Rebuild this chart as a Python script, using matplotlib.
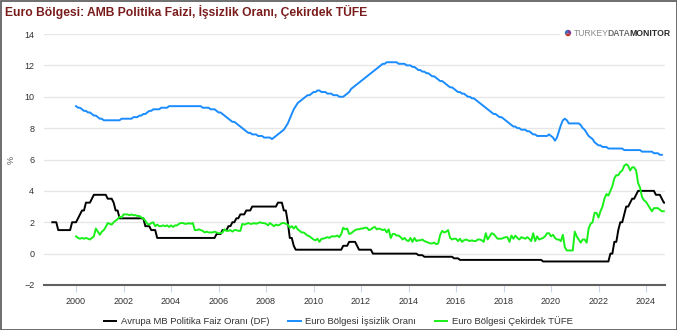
import numpy as np
import matplotlib.pyplot as plt
from matplotlib import font_manager
from matplotlib.patches import Rectangle

# ECB deposit facility rate, monthly, Jan 1999 - Nov 2024
ecb_df = [
    2.00, 2.00, 2.00, 1.50, 1.50, 1.50, 1.50, 1.50, 1.50, 1.50, 2.00, 2.00,  # 1999
    2.00, 2.25, 2.50, 2.75, 2.75, 3.25, 3.25, 3.25, 3.50, 3.75, 3.75, 3.75,  # 2000
    3.75, 3.75, 3.75, 3.75, 3.50, 3.50, 3.50, 3.25, 2.75, 2.75, 2.25, 2.25,  # 2001
    2.25, 2.25, 2.25, 2.25, 2.25, 2.25, 2.25, 2.25, 2.25, 2.25, 2.25, 1.75,  # 2002
    1.75, 1.75, 1.50, 1.50, 1.50, 1.00, 1.00, 1.00, 1.00, 1.00, 1.00, 1.00,  # 2003
    1.00, 1.00, 1.00, 1.00, 1.00, 1.00, 1.00, 1.00, 1.00, 1.00, 1.00, 1.00,  # 2004
    1.00, 1.00, 1.00, 1.00, 1.00, 1.00, 1.00, 1.00, 1.00, 1.00, 1.00, 1.25,  # 2005
    1.25, 1.25, 1.50, 1.50, 1.50, 1.75, 1.75, 2.00, 2.00, 2.25, 2.25, 2.50,  # 2006
    2.50, 2.50, 2.75, 2.75, 2.75, 3.00, 3.00, 3.00, 3.00, 3.00, 3.00, 3.00,  # 2007
    3.00, 3.00, 3.00, 3.00, 3.00, 3.00, 3.25, 3.25, 3.25, 2.75, 2.75, 2.00,  # 2008
    1.00, 1.00, 0.50, 0.25, 0.25, 0.25, 0.25, 0.25, 0.25, 0.25, 0.25, 0.25,  # 2009
    0.25, 0.25, 0.25, 0.25, 0.25, 0.25, 0.25, 0.25, 0.25, 0.25, 0.25, 0.25,  # 2010
    0.25, 0.25, 0.25, 0.50, 0.50, 0.50, 0.75, 0.75, 0.75, 0.75, 0.50, 0.25,  # 2011
    0.25, 0.25, 0.25, 0.25, 0.25, 0.25, 0.00, 0.00, 0.00, 0.00, 0.00, 0.00,  # 2012
    0.00, 0.00, 0.00, 0.00, 0.00, 0.00, 0.00, 0.00, 0.00, 0.00, 0.00, 0.00,  # 2013
    0.00, 0.00, 0.00, 0.00, 0.00, -0.10, -0.10, -0.10, -0.20, -0.20, -0.20, -0.20,  # 2014
    -0.20, -0.20, -0.20, -0.20, -0.20, -0.20, -0.20, -0.20, -0.20, -0.20, -0.20, -0.30,  # 2015
    -0.30, -0.30, -0.40, -0.40, -0.40, -0.40, -0.40, -0.40, -0.40, -0.40, -0.40, -0.40,  # 2016
    -0.40, -0.40, -0.40, -0.40, -0.40, -0.40, -0.40, -0.40, -0.40, -0.40, -0.40, -0.40,  # 2017
    -0.40, -0.40, -0.40, -0.40, -0.40, -0.40, -0.40, -0.40, -0.40, -0.40, -0.40, -0.40,  # 2018
    -0.40, -0.40, -0.40, -0.40, -0.40, -0.40, -0.40, -0.40, -0.50, -0.50, -0.50, -0.50,  # 2019
    -0.50, -0.50, -0.50, -0.50, -0.50, -0.50, -0.50, -0.50, -0.50, -0.50, -0.50, -0.50,  # 2020
    -0.50, -0.50, -0.50, -0.50, -0.50, -0.50, -0.50, -0.50, -0.50, -0.50, -0.50, -0.50,  # 2021
    -0.50, -0.50, -0.50, -0.50, -0.50, -0.50, 0.00, 0.00, 0.75, 0.75, 1.50, 2.00,  # 2022
    2.00, 2.50, 3.00, 3.00, 3.25, 3.50, 3.50, 3.75, 4.00, 4.00, 4.00, 4.00,  # 2023
    4.00, 4.00, 4.00, 4.00, 4.00, 3.75, 3.75, 3.75, 3.50, 3.25, 3.25,  # 2024
]

# Euro area unemployment rate, monthly, Jan 2000 - Sep 2024
unemployment = [
    9.4, 9.3, 9.3, 9.2, 9.1, 9.1, 9.0, 9.0, 8.9, 8.8, 8.8, 8.7,  # 2000
    8.6, 8.6, 8.5, 8.5, 8.5, 8.5, 8.5, 8.5, 8.5, 8.5, 8.5, 8.6,  # 2001
    8.6, 8.6, 8.6, 8.6, 8.6, 8.7, 8.7, 8.7, 8.8, 8.8, 8.9, 8.9,  # 2002
    9.0, 9.1, 9.1, 9.2, 9.2, 9.2, 9.2, 9.3, 9.3, 9.3, 9.3, 9.4,  # 2003
    9.4, 9.4, 9.4, 9.4, 9.4, 9.4, 9.4, 9.4, 9.4, 9.4, 9.4, 9.4,  # 2004
    9.4, 9.4, 9.4, 9.4, 9.3, 9.3, 9.3, 9.3, 9.2, 9.2, 9.2, 9.1,  # 2005
    9.0, 9.0, 8.9, 8.8, 8.7, 8.6, 8.5, 8.4, 8.4, 8.3, 8.2, 8.1,  # 2006
    8.0, 7.9, 7.8, 7.7, 7.7, 7.6, 7.6, 7.6, 7.5, 7.5, 7.5, 7.4,  # 2007
    7.4, 7.4, 7.4, 7.3, 7.4, 7.5, 7.6, 7.7, 7.8, 7.9, 8.1, 8.3,  # 2008
    8.6, 8.9, 9.2, 9.4, 9.6, 9.7, 9.8, 9.9, 10.0, 10.1, 10.1, 10.2,  # 2009
    10.3, 10.3, 10.4, 10.4, 10.3, 10.3, 10.3, 10.2, 10.2, 10.2, 10.1, 10.1,  # 2010
    10.1, 10.0, 10.0, 10.0, 10.1, 10.2, 10.3, 10.5, 10.6, 10.7, 10.8, 10.9,  # 2011
    11.0, 11.1, 11.2, 11.3, 11.4, 11.5, 11.6, 11.7, 11.8, 11.9, 12.0, 12.1,  # 2012
    12.1, 12.2, 12.2, 12.2, 12.2, 12.2, 12.2, 12.1, 12.1, 12.1, 12.1, 12.0,  # 2013
    12.0, 12.0, 11.9, 11.9, 11.8, 11.7, 11.7, 11.6, 11.6, 11.5, 11.5, 11.4,  # 2014
    11.3, 11.3, 11.2, 11.1, 11.0, 11.0, 10.9, 10.8, 10.7, 10.6, 10.6, 10.5,  # 2015
    10.4, 10.3, 10.3, 10.2, 10.2, 10.1, 10.0, 10.0, 9.9, 9.9, 9.8, 9.7,  # 2016
    9.6, 9.5, 9.4, 9.3, 9.2, 9.1, 9.0, 8.9, 8.9, 8.8, 8.7, 8.7,  # 2017
    8.6, 8.5, 8.4, 8.3, 8.2, 8.1, 8.1, 8.0, 8.0, 7.9, 7.9, 7.9,  # 2018
    7.8, 7.8, 7.7, 7.6, 7.6, 7.5, 7.5, 7.5, 7.5, 7.5, 7.5, 7.6,  # 2019
    7.5, 7.4, 7.2, 7.4, 7.8, 8.2, 8.5, 8.6, 8.5, 8.3, 8.3, 8.3,  # 2020
    8.3, 8.3, 8.3, 8.2, 8.0, 7.9, 7.7, 7.5, 7.4, 7.3, 7.1, 7.0,  # 2021
    6.9, 6.9, 6.8, 6.8, 6.8, 6.7, 6.7, 6.7, 6.7, 6.7, 6.7, 6.7,  # 2022
    6.7, 6.6, 6.6, 6.6, 6.6, 6.6, 6.6, 6.6, 6.6, 6.6, 6.5, 6.5,  # 2023
    6.5, 6.5, 6.5, 6.5, 6.4, 6.4, 6.4, 6.3, 6.3,  # 2024
]

# Euro area core HICP (yoy %), monthly, Jan 2000 - Oct 2024
core_cpi = [
    1.1, 1.0, 0.95, 1.0, 0.95, 1.0, 0.95, 0.9, 1.0, 1.1, 1.6, 1.4,  # 2000
    1.2, 1.4, 1.5, 1.7, 1.95, 1.9, 1.85, 2.0, 2.1, 2.2, 2.35, 2.3,  # 2001
    2.5, 2.5, 2.5, 2.45, 2.5, 2.45, 2.45, 2.4, 2.4, 2.3, 2.25, 2.1,  # 2002
    1.9, 1.85, 1.95, 2.0, 1.75, 1.85, 1.75, 1.75, 1.8, 1.75, 1.8, 1.7,  # 2003
    1.8, 1.7, 1.8, 1.8, 1.9, 1.95, 1.95, 1.9, 1.9, 1.95, 1.9, 1.95,  # 2004
    1.5, 1.5, 1.55, 1.5, 1.45, 1.35, 1.4, 1.35, 1.35, 1.35, 1.4, 1.35,  # 2005
    1.3, 1.3, 1.35, 1.55, 1.45, 1.45, 1.5, 1.4, 1.5, 1.5, 1.45, 1.45,  # 2006
    1.9, 1.85, 1.9, 1.95, 1.9, 1.9, 1.95, 1.9, 1.95, 2.0, 1.95, 1.95,  # 2007
    1.9, 1.8, 1.95, 1.85, 1.75, 1.85, 1.8, 1.85, 1.95, 1.95, 1.9, 1.85,  # 2008
    1.65, 1.75, 1.6, 1.75, 1.55, 1.45, 1.35, 1.35, 1.25, 1.15, 1.1, 1.0,  # 2009
    0.9, 0.85, 0.95, 0.75, 0.95, 0.95, 1.0, 1.05, 1.0, 1.1, 1.1, 1.1,  # 2010
    1.15, 1.05, 1.25, 1.65, 1.55, 1.6, 1.25, 1.3, 1.4, 1.5, 1.55, 1.55,  # 2011
    1.6, 1.6, 1.65, 1.65, 1.5, 1.55, 1.65, 1.7, 1.55, 1.6, 1.55, 1.5,  # 2012
    1.55, 1.35, 1.55, 1.0, 1.25, 1.25, 1.15, 1.15, 1.05, 0.9, 1.0, 0.85,  # 2013
    0.8, 1.0, 0.75, 1.0, 0.8, 0.85, 0.85, 0.9, 0.8, 0.75, 0.7, 0.65,  # 2014
    0.65, 0.7, 0.6, 0.65, 1.2, 1.45, 1.35, 1.4, 1.5, 1.0, 0.9, 0.95,  # 2015
    0.95, 0.8, 0.95, 0.75, 0.85, 0.9, 0.85, 0.8, 0.85, 0.8, 0.8, 0.9,  # 2016
    0.9, 0.85, 0.75, 1.3, 0.9, 1.1, 1.3, 1.25, 1.1, 0.95, 0.95, 0.95,  # 2017
    1.0, 1.05, 1.05, 0.75, 1.15, 0.95, 1.15, 1.0, 0.9, 1.05, 1.0, 0.95,  # 2018
    1.05, 0.95, 0.8, 1.3, 0.8, 1.1, 0.9, 0.95, 1.0, 1.1, 1.3, 1.3,  # 2019
    1.1, 1.2, 1.0, 0.9, 0.9, 0.8, 1.2, 0.4, 0.2, 0.2, 0.2, 0.2,  # 2020
    1.4, 1.1, 0.9, 0.7, 0.9, 0.9, 0.7, 1.6, 1.9, 2.0, 2.6, 2.6,  # 2021
    2.3, 2.7, 3.0, 3.5, 3.8, 3.7, 4.0, 4.3, 4.8, 5.0, 5.0, 5.2,  # 2022
    5.3, 5.6, 5.7, 5.6, 5.3, 5.5, 5.5, 5.3, 4.5, 4.2, 3.6, 3.4,  # 2023
    3.3, 3.1, 2.9, 2.7, 2.9, 2.9, 2.9, 2.8, 2.7, 2.7,  # 2024
]

labels = ["Avrupa MB Politika Faiz Oranı (DF)", "Euro Bölgesi İşsizlik Oranı",
          "Euro Bölgesi Çekirdek TÜFE"]
colors = ["#000000", "#1a8cff", "#19f019"]
year_ticks = list(range(2000, 2025, 2))
y_ticks = list(range(-2, 15, 2))
logo_parts = [1, 1, 1]

x_ecb = 1999 + np.arange(len(ecb_df)) / 12
x_unemp = 2000 + np.arange(len(unemployment)) / 12
x_core = 2000 + np.arange(len(core_cpi)) / 12

installed = {f.name for f in font_manager.fontManager.ttflist}
narrow = 'Liberation Sans Narrow' if 'Liberation Sans Narrow' in installed else 'Liberation Sans'
plt.rcParams['font.family'] = [narrow, 'DejaVu Sans']

fig = plt.figure(figsize=(6.77, 3.30), dpi=100)
ax = fig.add_axes([44 / 677, 45 / 330, 621 / 677, 251 / 330])

ax.plot(x_ecb, ecb_df, color=colors[0], lw=1.4, label=labels[0], zorder=3)
ax.plot(x_unemp, unemployment, color=colors[1], lw=1.4, label=labels[1], zorder=3)
ax.plot(x_core, core_cpi, color=colors[2], lw=1.4, label=labels[2], zorder=3)

ax.set_xlim(1998.65, 2024.8)
ax.set_ylim(-2, 14)
ax.set_yticks(y_ticks)
ax.set_xticks(year_ticks)
ax.grid(axis='y', color='#e6e6e6', lw=0.9)
ax.set_axisbelow(True)
for s in ['top', 'right', 'left']:
    ax.spines[s].set_visible(False)
ax.spines['bottom'].set_color('#606060')
ax.spines['bottom'].set_linewidth(1.5)
ax.tick_params(axis='y', length=0, pad=7, labelsize=6.5, labelcolor='#333333')
ax.tick_params(axis='x', length=5, width=0.8, color='#ccd6eb', pad=4,
               labelsize=6.5, labelcolor='#333333')
ax.set_ylabel('%', fontsize=6.5, color='#555555', labelpad=6)

leg = fig.legend(loc='center', bbox_to_anchor=(0.5, 9 / 330), ncol=3, frameon=False,
                 fontsize=6.8, handlelength=1.3, handletextpad=0.5, columnspacing=2.0)
for t in leg.get_texts():
    t.set_color('#333333')

fig.text(5 / 677, 1 - 12 / 330, "Euro Bölgesi: AMB Politika Faizi, İşsizlik Oranı, Çekirdek TÜFE",
         fontsize=8.7, fontweight='bold', color='#7a1c1c', va='center',
         family=['Liberation Sans', 'DejaVu Sans'])

# logo
lx, ly = 568, 33
fig.patches.append(Rectangle(((lx - 8) / 677, 1 - 42 / 330), 112 / 677, 18 / 330,
                             transform=fig.transFigure, color='white', zorder=2))
lax = fig.add_axes([(lx - 4) / 677, 1 - (ly + 4) / 330, 8 / 677, 8 / 330])
lax.pie(logo_parts, colors=['#3b6fb6', '#c0392b', '#7d3c98'], startangle=90)
lax.set_aspect('equal')
lax.axis('off')
lax.set_zorder(5)
renderer = fig.canvas.get_renderer()
cx = lx + 6
for word, col, wt in [("TURKEY", '#8a8a8a', 'normal'), ("DATA", '#707070', 'bold'),
                      ("MONITOR", '#2b2b2b', 'bold')]:
    t = fig.text(cx / 677, 1 - ly / 330, word, fontsize=6.2, color=col, fontweight=wt,
                 va='center', zorder=4)
    cx += t.get_window_extent(renderer).width - 1

fig.patches.append(Rectangle((0.5 / 677, 0.5 / 330), 676 / 677, 329 / 330,
                             transform=fig.transFigure, fill=False, ec='#555555', lw=1.2))

fig.savefig('out.png', dpi=100)
